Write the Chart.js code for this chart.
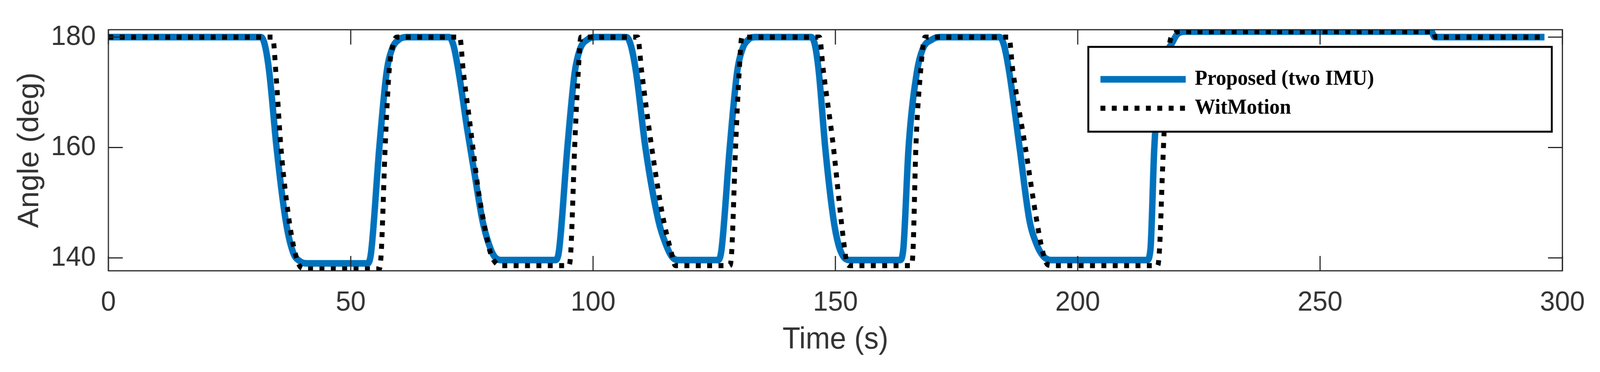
<!DOCTYPE html>
<html>
<head>
<meta charset="utf-8">
<script src="https://cdn.jsdelivr.net/npm/chart.js@4.4.1/dist/chart.umd.min.js"></script>
<style>
html,body{margin:0;padding:0;background:#fff;overflow:hidden;width:100%;height:100%}
</style>
</head>
<body>
<canvas id="c" width="4222" height="952" style="display:block;position:fixed;left:0;top:0;width:100vw;height:100vh"></canvas>
<script>
// ---- data ----
const seriesNames = ['Proposed (two IMU)', 'WitMotion'];
const xAxisTitle = 'Time (s)';
const yAxisTitle = 'Angle (deg)';
const xTickValues = [0, 50, 100, 150, 200, 250, 300];
const yTickValues = [140, 160, 180];

const proposedTime = [0, 31.5, 32.3, 33.2, 34.7, 36.6, 38.1, 39.5, 41, 53.5, 54.2, 55.9, 57.4, 58.5, 60, 61.5,
  70.3, 71.2, 72.4, 74.0, 75.5, 77.2, 78.5, 79.6, 81, 92.3, 93.0, 94.7, 96.2, 97.3, 98.9, 100.5,
  106.9, 107.8, 108.9, 110.8, 113.5, 115, 116.2, 117.5, 125.8, 126.5, 128.2, 129.7, 130.8, 132.1, 133.5,
  145, 145.8, 146.6, 147.9, 149.6, 150.6, 151.6, 153, 163.3, 164.0, 165.1, 166.8, 168, 170, 171.5,
  183.9, 184.8, 185.9, 188, 190, 191.5, 192.9, 194.5, 214.3, 215, 215.8, 217, 218.3, 219.5, 220.5, 222,
  273, 273.6, 296.3];
const proposedAngle = [180, 180, 178.5, 173.6, 160, 146.7, 141, 139.4, 139.0, 139.0, 141, 160, 173.6, 177.8, 179.6, 180,
  180, 178.5, 173, 163.5, 155.5, 146.7, 142.5, 140.3, 139.6, 139.6, 141.5, 160, 173.5, 177.8, 179.6, 180,
  180, 178.5, 173.5, 160, 146.7, 142.5, 140.3, 139.6, 139.6, 141.5, 160, 173.5, 177.8, 179.6, 180,
  180, 178.5, 173.5, 160, 147, 142.5, 140.3, 139.6, 139.6, 141.5, 160, 173.6, 177.8, 179.6, 180,
  180, 178.5, 173.5, 160, 147, 142.5, 140.3, 139.6, 139.6, 141.5, 160, 172, 177, 179, 180.5, 181,
  181, 180, 180];

const witmotionTime = [0, 33.9, 34.6, 35.6, 37.3, 38.5, 39.8, 41, 55.9, 56.3, 57.1, 57.9, 58.7, 59.5,
  72.5, 73.2, 74.5, 75.2, 76.2, 77.4, 78.8, 80, 81.3, 95.0, 95.4, 96.2, 96.9, 97.5,
  109.2, 110, 112.1, 114.5, 116, 117, 128.2, 128.6, 129.4, 130.1, 130.7,
  146.7, 147.5, 149.6, 150.8, 151.7, 152.4, 153, 165.6, 166.0, 166.6, 167.5, 168.5,
  185.8, 186.6, 189.2, 191.3, 192.8, 193.9, 195, 216.5, 216.9, 217.5, 218.2, 218.9, 219.8, 221,
  273.4, 273.8, 296.3];
const witmotionAngle = [180, 180, 173, 160, 146.7, 141, 138.2, 138.0, 138.0, 141, 160, 173.6, 178.5, 180,
  180, 174, 165, 160, 153, 146.7, 141, 139, 138.6, 138.6, 141, 160, 173, 180,
  180, 174, 160, 147, 141.5, 138.6, 138.6, 141, 160, 173, 180,
  180, 174, 160, 150, 143, 139, 138.6, 138.6, 141, 160, 173, 180,
  180, 174, 160, 148, 141, 138.7, 138.6, 138.6, 142, 156, 170, 178.5, 180.5, 181,
  181, 180, 180];

const xRange = [0, 300];
const yRange = [137.66, 181.35];

// ---- chart ----
const toPoints = (ts, vs) => ts.map((t, i) => ({x: t, y: vs[i]}));
const sansFont = '"Liberation Sans", Arial, Helvetica, sans-serif';
const textColor = '#333333';

const framePlugin = {
  id: 'frame',
  afterDraw(chart) {
    const {ctx, chartArea: a, scales: {x, y}} = chart;
    ctx.save();
    ctx.strokeStyle = '#262626';
    ctx.lineWidth = 3;
    ctx.strokeRect(a.left, a.top, a.right - a.left, a.bottom - a.top);
    const tl = 38;
    ctx.beginPath();
    xTickValues.forEach(v => {
      const px = x.getPixelForValue(v);
      ctx.moveTo(px, a.bottom); ctx.lineTo(px, a.bottom - tl);
      ctx.moveTo(px, a.top); ctx.lineTo(px, a.top + tl);
    });
    yTickValues.forEach(v => {
      const py = y.getPixelForValue(v);
      ctx.moveTo(a.left, py); ctx.lineTo(a.left + tl, py);
      ctx.moveTo(a.right, py); ctx.lineTo(a.right - tl, py);
    });
    ctx.stroke();

    // legend box (northeast, inside the axes)
    const bw = 1223, bh = 217;
    const bx = a.right - 28 - bw, by = a.top + 44;
    ctx.fillStyle = '#ffffff';
    ctx.fillRect(bx, by, bw, bh);
    ctx.strokeStyle = '#000000';
    ctx.lineWidth = 5;
    ctx.strokeRect(bx, by, bw, bh);

    const ds = chart.data.datasets;
    const rows = [by + 83, by + 157];
    const sx0 = bx + 32, sx1 = bx + 257;
    ds.forEach((d, i) => {
      ctx.beginPath();
      ctx.strokeStyle = d.borderColor;
      ctx.lineWidth = d.borderWidth;
      ctx.lineCap = 'butt';
      ctx.setLineDash(d.borderDash || []);
      ctx.moveTo(sx0, rows[i]);
      ctx.lineTo(i === 1 ? sx1 + 13 : sx1, rows[i]);
      ctx.stroke();
      ctx.setLineDash([]);
      ctx.fillStyle = '#000000';
      ctx.font = 'bold 54px "Liberation Serif", "Times New Roman", serif';
      ctx.textAlign = 'left';
      ctx.textBaseline = 'alphabetic';
      ctx.fillText(d.label, bx + 281, rows[i] + 14);
    });
    ctx.restore();
  }
};

new Chart(document.getElementById('c'), {
  type: 'line',
  data: {
    datasets: [
      {
        label: seriesNames[0],
        data: toPoints(proposedTime, proposedAngle),
        borderColor: '#0072BD',
        borderWidth: 17,
        pointRadius: 0,
        cubicInterpolationMode: 'monotone',
        borderJoinStyle: 'round',
        order: 2
      },
      {
        label: seriesNames[1],
        data: toPoints(witmotionTime, witmotionAngle),
        borderColor: '#000000',
        borderWidth: 13,
        borderDash: [13, 17],
        borderCapStyle: 'butt',
        pointRadius: 0,
        cubicInterpolationMode: 'monotone',
        order: 1
      }
    ]
  },
  options: {
    responsive: false,
    devicePixelRatio: 1,
    animation: false,
    events: [],
    layout: {padding: {top: 76, right: 94, left: 0, bottom: 0}},
    plugins: {legend: {display: false}, tooltip: {enabled: false}},
    scales: {
      x: {
        type: 'linear',
        min: xRange[0], max: xRange[1],
        afterBuildTicks: s => { s.ticks = xTickValues.map(v => ({value: v})); },
        afterFit: s => { s.height = 259; },
        grid: {display: false, drawTicks: false, tickLength: 0},
        border: {display: false},
        ticks: {padding: 40, autoSkip: false, maxRotation: 0, color: textColor,
                font: {family: sansFont, size: 71}},
        title: {display: true, text: xAxisTitle, color: textColor,
                font: {family: sansFont, size: 77}, padding: {top: 0, bottom: 35}}
      },
      y: {
        type: 'linear',
        min: yRange[0], max: yRange[1],
        afterBuildTicks: s => { s.ticks = yTickValues.map(v => ({value: v})); },
        afterFit: s => { s.width = 286; },
        grid: {display: false, drawTicks: false, tickLength: 0},
        border: {display: false},
        ticks: {padding: 33, color: textColor, font: {family: sansFont, size: 71}},
        title: {display: true, text: yAxisTitle, color: textColor,
                font: {family: sansFont, size: 77}, padding: {top: 34, bottom: 0}}
      }
    }
  },
  plugins: [framePlugin]
});
</script>
</body>
</html>
